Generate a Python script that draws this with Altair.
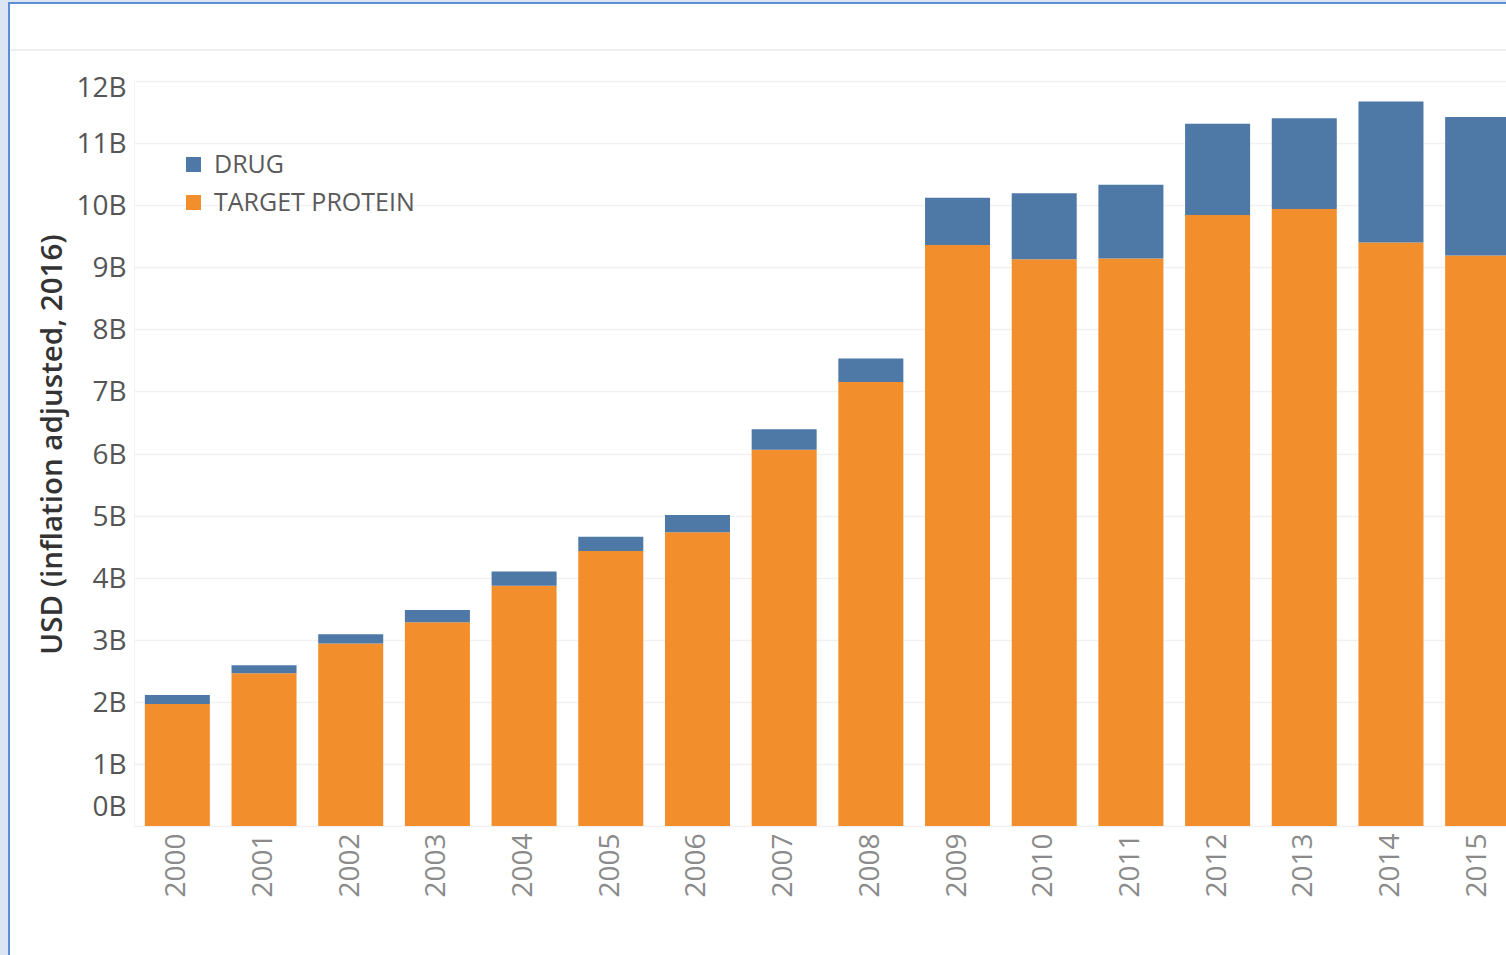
import altair as alt
import pandas as pd

# Yearly funding, in billions of USD (inflation adjusted to 2016)
years = [str(y) for y in range(2000, 2016)]
target_protein = [1.965, 2.46, 2.94, 3.28, 3.87, 4.43, 4.73, 6.06, 7.15,
                  9.36, 9.13, 9.14, 9.84, 9.94, 9.40, 9.19]
drug = [0.145, 0.13, 0.15, 0.20, 0.23, 0.23, 0.28, 0.33, 0.38,
        0.76, 1.06, 1.19, 1.47, 1.46, 2.27, 2.23]
categories = ["DRUG", "TARGET PROTEIN"]
colors = ["#4e79a7", "#f28e2b"]
y_ticks = list(range(0, 13))

rows = []
for i, yr in enumerate(years):
    rows.append({"year": yr, "kind": "TARGET PROTEIN", "value": target_protein[i], "stack": 0})
    rows.append({"year": yr, "kind": "DRUG", "value": drug[i], "stack": 1})
df = pd.DataFrame(rows)

TOTAL_W = 1506
TOTAL_H = 955
LEFT = 134
TOP = 81
PLOT_W = TOTAL_W - LEFT
PLOT_H = 745
BOTTOM = TOTAL_H - TOP - PLOT_H

bars = alt.Chart(df).mark_bar(clip=True).encode(
    x=alt.X(
        "year:N",
        sort=years,
        scale=alt.Scale(paddingInner=0.25, paddingOuter=0.125, range=[0, 1387]),
        axis=alt.Axis(
            title=None,
            labelAngle=270,
            labelFontSize=28,
            labelColor="#8a8a8a",
            labelPadding=7,
            ticks=False,
            domain=False,
            grid=False,
        ),
    ),
    y=alt.Y(
        "value:Q",
        stack="zero",
        scale=alt.Scale(domain=[0, 12], nice=False),
        axis=alt.Axis(
            title="USD (inflation adjusted, 2016)",
            titleFontSize=29.5,
            titleFontWeight=600,
            titleColor="#333333",
            titlePadding=8,
            titleY=363,
            values=y_ticks,
            labelExpr="datum.value + 'B'",
            labelFontSize=28,
            labelColor="#555555",
            labelPadding=8,
            labelOffset={
                "condition": [
                    {"test": "datum.value == 0", "value": -19},
                    {"test": "datum.value == 12", "value": 7},
                ],
                "value": 1.5,
            },
            ticks=False,
            domainColor="#f2f2f2",
            gridColor="#f1f1f1",
            gridWidth=1.5,
        ),
    ),
    color=alt.Color(
        "kind:N",
        scale=alt.Scale(domain=categories, range=colors),
        legend=alt.Legend(
            title=None,
            orient="none",
            legendX=47,
            legendY=71,
            symbolType="square",
            symbolSize=225,
            symbolStrokeWidth=0,
            labelFontSize=25,
            labelColor="#5a5a5a",
            labelOffset=8,
            labelLimit=500,
            rowPadding=12,
        ),
    ),
    order=alt.Order("stack:Q"),
)

# Window frame around the panel
one = pd.DataFrame({"k": [0]})
frame_strip_left = alt.Chart(one).mark_rect(color="#dce6f2", clip=False).encode(
    x=alt.value(-LEFT), x2=alt.value(-LEFT + 8),
    y=alt.value(-TOP), y2=alt.value(PLOT_H + BOTTOM),
)
frame_strip_top = alt.Chart(one).mark_rect(color="#dce6f2", clip=False).encode(
    x=alt.value(-LEFT), x2=alt.value(PLOT_W),
    y=alt.value(-TOP), y2=alt.value(-TOP + 2),
)
frame_line_left = alt.Chart(one).mark_rect(color="#5b8ed6", clip=False).encode(
    x=alt.value(-LEFT + 8), x2=alt.value(-LEFT + 10),
    y=alt.value(-TOP + 2), y2=alt.value(PLOT_H + BOTTOM),
)
frame_line_top = alt.Chart(one).mark_rect(color="#5b8ed6", clip=False).encode(
    x=alt.value(-LEFT + 8), x2=alt.value(PLOT_W),
    y=alt.value(-TOP + 2), y2=alt.value(-TOP + 4),
)
header_line = alt.Chart(one).mark_rect(color="#efefef", clip=False).encode(
    x=alt.value(-LEFT + 10), x2=alt.value(PLOT_W),
    y=alt.value(-TOP + 49), y2=alt.value(-TOP + 51),
)

chart = alt.layer(
    frame_strip_left, frame_strip_top, frame_line_left, frame_line_top, header_line, bars
).properties(
    width=PLOT_W,
    height=PLOT_H,
    padding={"left": LEFT, "top": TOP, "right": 0, "bottom": BOTTOM},
    autosize=alt.AutoSizeParams(type="none"),
    background="#ffffff",
).configure_view(
    stroke=None,
).configure(
    font="Open Sans",
)

chart.save("out.html", embed_options={"renderer": "svg", "actions": False})
